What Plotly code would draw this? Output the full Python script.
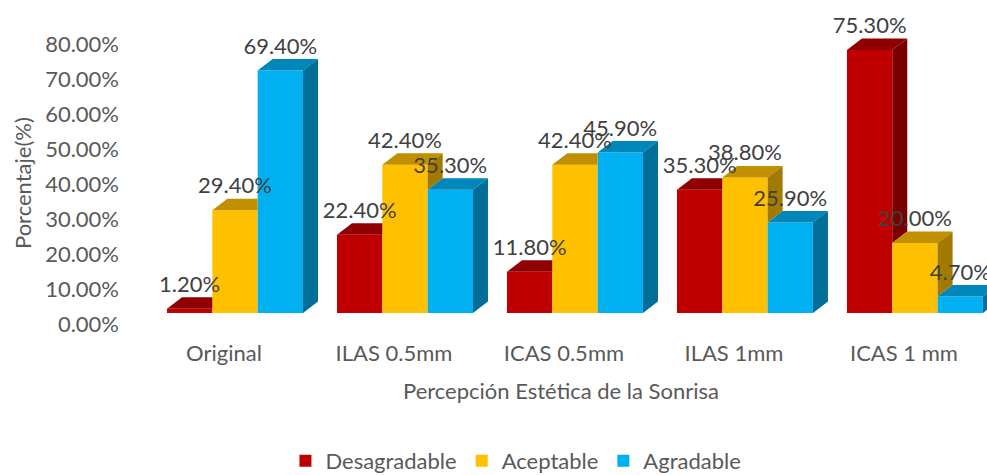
import plotly.graph_objects as go

# ---------------- data ----------------
categories = ["Original", "ILAS 0.5mm", "ICAS 0.5mm", "ILAS 1mm", "ICAS 1 mm"]
series_names = ["Desagradable", "Aceptable", "Agradable"]
desagradable = [0.012, 0.224, 0.118, 0.353, 0.753]
aceptable = [0.294, 0.424, 0.424, 0.388, 0.200]
agradable = [0.694, 0.353, 0.459, 0.259, 0.047]
y_ticks = [0.0, 0.1, 0.2, 0.3, 0.4, 0.5, 0.6, 0.7, 0.8]

series_values = [desagradable, aceptable, agradable]

# ---------------- style ----------------
front_colors = ["#C00000", "#FFC000", "#00B0F0"]
top_colors = ["#900000", "#C09000", "#0087BA"]
side_colors = ["#7A0000", "#A27A00", "#006E97"]
FONT = "Lato, 'Open Sans', sans-serif"
AXIS_COLOR = "#595959"
LABEL_COLOR = "#404040"

W, H = 987, 475
ML, MR, MT, MB = 150, 0, 16, 162
X_RANGE = [-0.5, 4.424]
Y_RANGE = [0, 0.85]
px_per_x = (W - ML - MR) / (X_RANGE[1] - X_RANGE[0])
px_per_y = (H - MT - MB) / (Y_RANGE[1] - Y_RANGE[0])
DX = 15 / px_per_x      # 3D depth offset, horizontal (data units)
DY = 11.5 / px_per_y    # 3D depth offset, vertical (data units)
GROUP_W = 0.8
BAR_W = GROUP_W / len(series_values)

xpos = list(range(len(categories)))

fig = go.Figure()

# front faces: real bars
for s, (name, vals) in enumerate(zip(series_names, series_values)):
    fig.add_trace(go.Bar(
        x=xpos, y=vals, name=name,
        marker=dict(color=front_colors[s], line=dict(width=0)),
        hoverinfo="skip",
    ))

# 3D top and side faces derived from the same values
for s, vals in enumerate(series_values):
    nxt = series_values[s + 1] if s + 1 < len(series_values) else None
    tx, ty, sx, sy = [], [], [], []
    for c, v in enumerate(vals):
        x0 = xpos[c] - GROUP_W / 2 + s * BAR_W
        x1 = x0 + BAR_W
        hn = nxt[c] if nxt is not None else 0.0
        t = min(max((hn - v) / DY, 0.0), 1.0)
        tx += [x0, x1, x1, x1 + t * DX, x1 + DX, x0 + DX, x0, None]
        ty += [v, v, v + t * DY, v + t * DY, v + DY, v + DY, v, None]
        base = min(hn, v) if nxt is not None else 0.0
        if v > base:
            sx += [x1, x1 + DX, x1 + DX, x1, x1, None]
            sy += [base, base + DY, v + DY, v, base, None]
    fig.add_trace(go.Scatter(x=tx, y=ty, mode="lines", fill="toself",
                             fillcolor=top_colors[s], line=dict(width=0),
                             showlegend=False, hoverinfo="skip"))
    if sx:
        fig.add_trace(go.Scatter(x=sx, y=sy, mode="lines", fill="toself",
                                 fillcolor=side_colors[s], line=dict(width=0),
                                 showlegend=False, hoverinfo="skip"))

# data labels
for s, vals in enumerate(series_values):
    cx = [xpos[c] - GROUP_W / 2 + (s + 0.5) * BAR_W for c in range(len(vals))]
    fig.add_trace(go.Scatter(
        x=cx, y=[v + DY for v in vals], mode="text",
        text=[f"{v * 100:.2f}%" for v in vals],
        textposition="top center",
        textfont=dict(family=FONT, size=22, color=LABEL_COLOR),
        showlegend=False, hoverinfo="skip", cliponaxis=False,
    ))

fig.update_layout(
    width=W, height=H,
    margin=dict(l=ML, r=MR, t=MT, b=MB, autoexpand=False),
    paper_bgcolor="white", plot_bgcolor="white",
    barmode="group", bargap=0.2, bargroupgap=0,
    font=dict(family=FONT, size=22, color=AXIS_COLOR),
    showlegend=True,
    legend=dict(orientation="h", x=0.4372, xanchor="center",
                y=-0.4983, yanchor="middle",
                font=dict(family=FONT, size=22, color=AXIS_COLOR),
                bgcolor="rgba(0,0,0,0)"),
    xaxis=dict(range=X_RANGE, tickvals=xpos, ticktext=categories,
               showgrid=False, zeroline=False, showline=False, ticks="",
               ticklabelstandoff=25, ticklabelshift=-11,
               tickfont=dict(family=FONT, size=22, color=AXIS_COLOR)),
    yaxis=dict(range=Y_RANGE, tickvals=y_ticks, tickformat=".2%",
               showgrid=False, zeroline=False, showline=False, ticks="",
               ticklabelstandoff=30, ticklabelshift=11,
               tickfont=dict(family=FONT, size=22, color=AXIS_COLOR)),
    annotations=[
        dict(text="Percepción Estética de la Sonrisa", xref="paper", yref="paper",
             x=(561 - ML) / (W - ML - MR), y=(H - MB - 390) / (H - MT - MB),
             xanchor="center", yanchor="middle", showarrow=False,
             font=dict(family=FONT, size=22, color=AXIS_COLOR)),
        dict(text="Porcentaje(%)", xref="paper", yref="paper", textangle=-90,
             x=(22 - ML) / (W - ML - MR), y=(H - MB - 183) / (H - MT - MB),
             xanchor="center", yanchor="middle", showarrow=False,
             font=dict(family=FONT, size=22, color=AXIS_COLOR)),
    ],
)

fig.write_html(
    "out.html",
    config={"displayModeBar": False},
    post_script="document.body.style.margin='0px';document.body.style.overflow='hidden';",
)
